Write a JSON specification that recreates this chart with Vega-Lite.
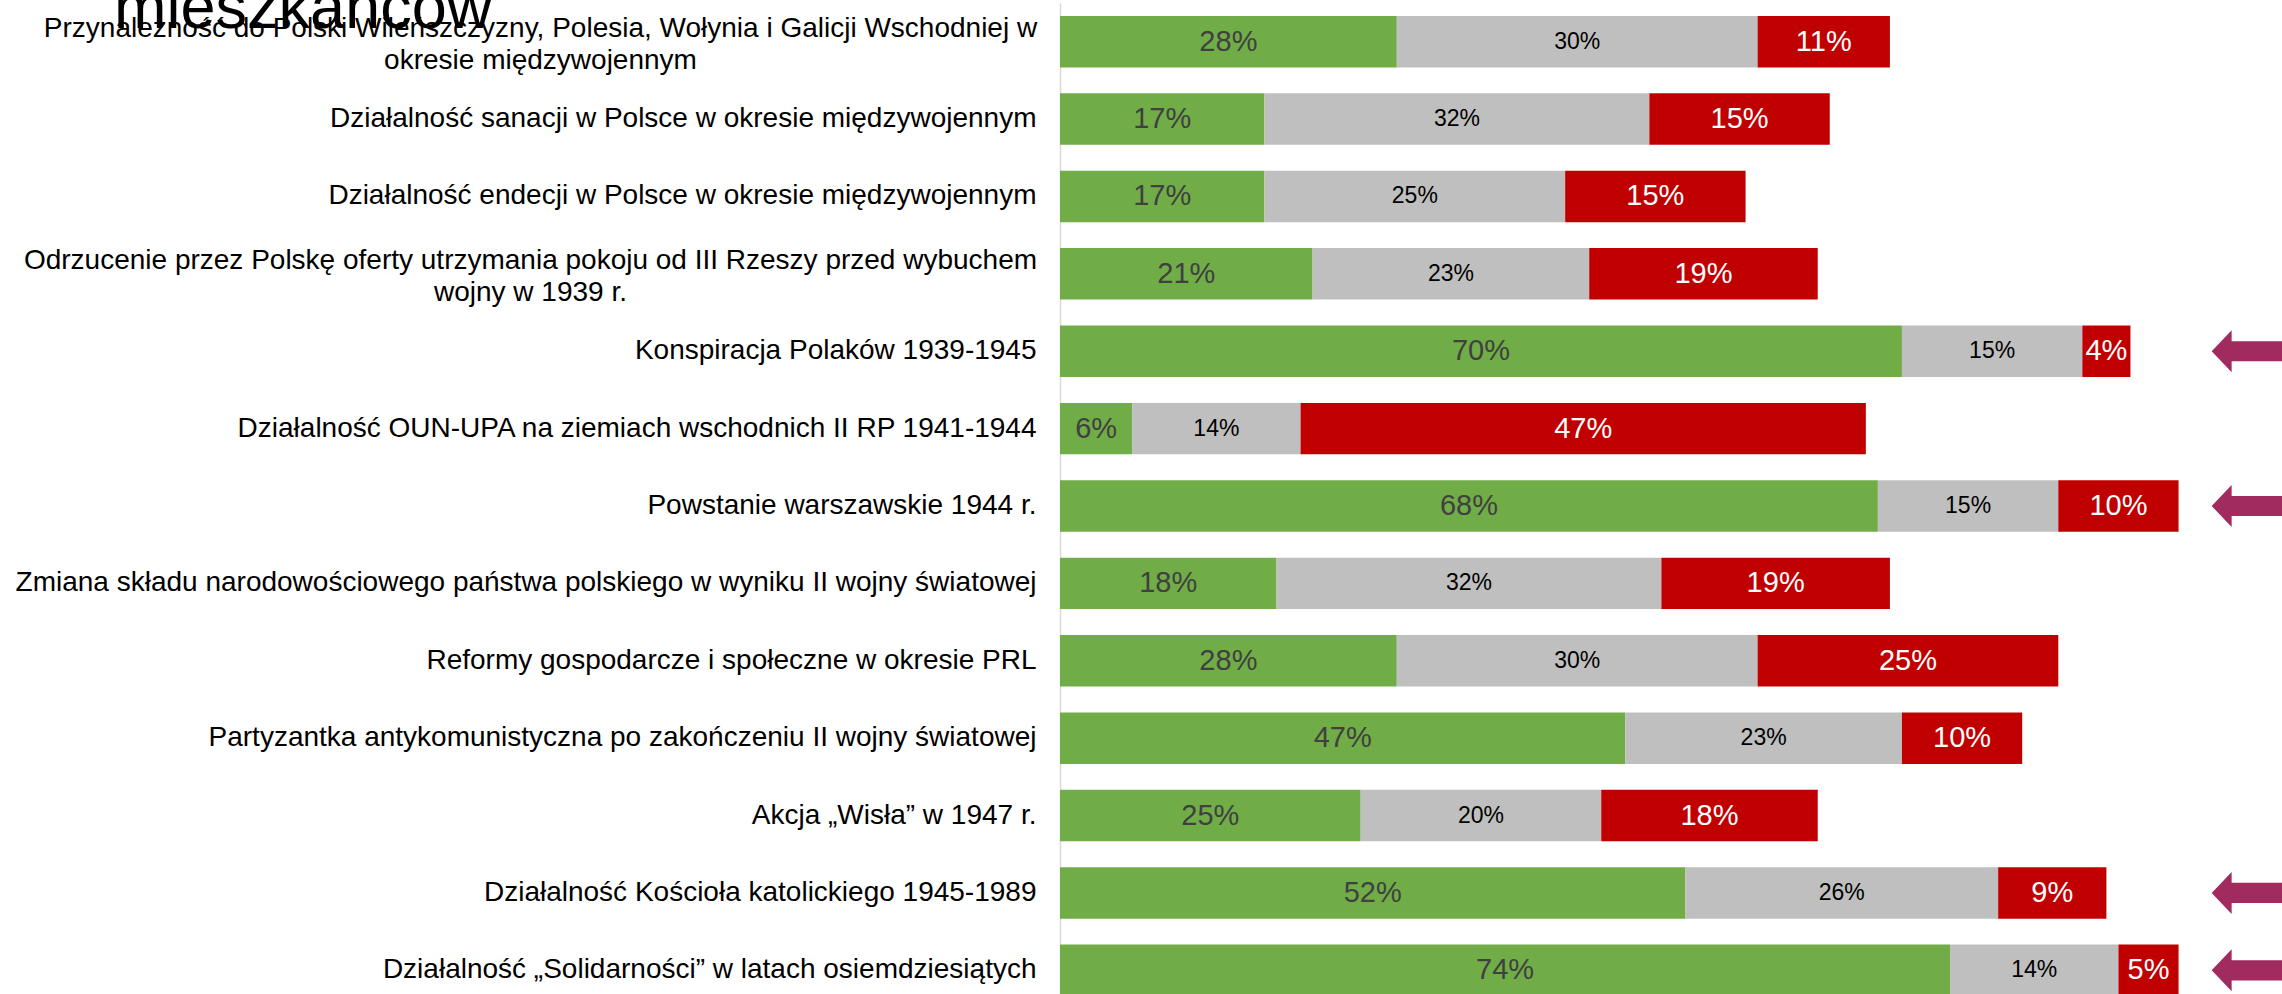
{
  "$schema": "https://vega.github.io/schema/vega-lite/v6.json",
  "autosize": {"type": "none"},
  "padding": {"left": 1060, "top": 3, "right": 0, "bottom": 0},
  "width": 1222,
  "height": 1006,
  "background": "white",
  "config": {"view": {"stroke": null}},
  "title": {"text": "mieszkańców", "anchor": "start", "frame": "bounds", "font": "Liberation Sans", "fontSize": 63, "fontWeight": "normal", "color": "#000000", "baseline": "alphabetic", "offset": 0, "dx": 99, "dy": 88},
  "datasets": {
    "bars": [
      {"cat": "Przynależność do Polski Wileńszczyzny, Polesia, Wołynia i Galicji Wschodniej w\nokresie międzywojennym", "seg": "pos", "order": 1, "value": 0.28},
      {"cat": "Przynależność do Polski Wileńszczyzny, Polesia, Wołynia i Galicji Wschodniej w\nokresie międzywojennym", "seg": "neu", "order": 2, "value": 0.30},
      {"cat": "Przynależność do Polski Wileńszczyzny, Polesia, Wołynia i Galicji Wschodniej w\nokresie międzywojennym", "seg": "neg", "order": 3, "value": 0.11},
      {"cat": "Działalność sanacji w Polsce w okresie międzywojennym", "seg": "pos", "order": 1, "value": 0.17},
      {"cat": "Działalność sanacji w Polsce w okresie międzywojennym", "seg": "neu", "order": 2, "value": 0.32},
      {"cat": "Działalność sanacji w Polsce w okresie międzywojennym", "seg": "neg", "order": 3, "value": 0.15},
      {"cat": "Działalność endecji w Polsce w okresie międzywojennym", "seg": "pos", "order": 1, "value": 0.17},
      {"cat": "Działalność endecji w Polsce w okresie międzywojennym", "seg": "neu", "order": 2, "value": 0.25},
      {"cat": "Działalność endecji w Polsce w okresie międzywojennym", "seg": "neg", "order": 3, "value": 0.15},
      {"cat": "Odrzucenie przez Polskę oferty utrzymania pokoju od III Rzeszy przed wybuchem\nwojny w 1939 r.", "seg": "pos", "order": 1, "value": 0.21},
      {"cat": "Odrzucenie przez Polskę oferty utrzymania pokoju od III Rzeszy przed wybuchem\nwojny w 1939 r.", "seg": "neu", "order": 2, "value": 0.23},
      {"cat": "Odrzucenie przez Polskę oferty utrzymania pokoju od III Rzeszy przed wybuchem\nwojny w 1939 r.", "seg": "neg", "order": 3, "value": 0.19},
      {"cat": "Konspiracja Polaków 1939-1945", "seg": "pos", "order": 1, "value": 0.70},
      {"cat": "Konspiracja Polaków 1939-1945", "seg": "neu", "order": 2, "value": 0.15},
      {"cat": "Konspiracja Polaków 1939-1945", "seg": "neg", "order": 3, "value": 0.04},
      {"cat": "Działalność OUN-UPA na ziemiach wschodnich II RP 1941-1944", "seg": "pos", "order": 1, "value": 0.06},
      {"cat": "Działalność OUN-UPA na ziemiach wschodnich II RP 1941-1944", "seg": "neu", "order": 2, "value": 0.14},
      {"cat": "Działalność OUN-UPA na ziemiach wschodnich II RP 1941-1944", "seg": "neg", "order": 3, "value": 0.47},
      {"cat": "Powstanie warszawskie 1944 r.", "seg": "pos", "order": 1, "value": 0.68},
      {"cat": "Powstanie warszawskie 1944 r.", "seg": "neu", "order": 2, "value": 0.15},
      {"cat": "Powstanie warszawskie 1944 r.", "seg": "neg", "order": 3, "value": 0.10},
      {"cat": "Zmiana składu narodowościowego państwa polskiego w wyniku II wojny światowej", "seg": "pos", "order": 1, "value": 0.18},
      {"cat": "Zmiana składu narodowościowego państwa polskiego w wyniku II wojny światowej", "seg": "neu", "order": 2, "value": 0.32},
      {"cat": "Zmiana składu narodowościowego państwa polskiego w wyniku II wojny światowej", "seg": "neg", "order": 3, "value": 0.19},
      {"cat": "Reformy gospodarcze i społeczne w okresie PRL", "seg": "pos", "order": 1, "value": 0.28},
      {"cat": "Reformy gospodarcze i społeczne w okresie PRL", "seg": "neu", "order": 2, "value": 0.30},
      {"cat": "Reformy gospodarcze i społeczne w okresie PRL", "seg": "neg", "order": 3, "value": 0.25},
      {"cat": "Partyzantka antykomunistyczna po zakończeniu II wojny światowej", "seg": "pos", "order": 1, "value": 0.47},
      {"cat": "Partyzantka antykomunistyczna po zakończeniu II wojny światowej", "seg": "neu", "order": 2, "value": 0.23},
      {"cat": "Partyzantka antykomunistyczna po zakończeniu II wojny światowej", "seg": "neg", "order": 3, "value": 0.10},
      {"cat": "Akcja „Wisła” w 1947 r.", "seg": "pos", "order": 1, "value": 0.25},
      {"cat": "Akcja „Wisła” w 1947 r.", "seg": "neu", "order": 2, "value": 0.20},
      {"cat": "Akcja „Wisła” w 1947 r.", "seg": "neg", "order": 3, "value": 0.18},
      {"cat": "Działalność Kościoła katolickiego 1945-1989", "seg": "pos", "order": 1, "value": 0.52},
      {"cat": "Działalność Kościoła katolickiego 1945-1989", "seg": "neu", "order": 2, "value": 0.26},
      {"cat": "Działalność Kościoła katolickiego 1945-1989", "seg": "neg", "order": 3, "value": 0.09},
      {"cat": "Działalność „Solidarności” w latach osiemdziesiątych", "seg": "pos", "order": 1, "value": 0.74},
      {"cat": "Działalność „Solidarności” w latach osiemdziesiątych", "seg": "neu", "order": 2, "value": 0.14},
      {"cat": "Działalność „Solidarności” w latach osiemdziesiątych", "seg": "neg", "order": 3, "value": 0.05}
    ],
    "arrows": [
      {"cat": "Konspiracja Polaków 1939-1945"},
      {"cat": "Powstanie warszawskie 1944 r."},
      {"cat": "Działalność Kościoła katolickiego 1945-1989"},
      {"cat": "Działalność „Solidarności” w latach osiemdziesiątych"}
    ]
  },
  "encoding": {
    "y": {
      "field": "cat",
      "type": "nominal",
      "sort": null,
      "title": null,
      "scale": {"paddingInner": 0.335, "paddingOuter": 0.1675},
      "axis": {
        "ticks": false,
        "tickSize": 0,
        "domain": true,
        "domainColor": "#D9D9D9",
        "domainWidth": 1.5,
        "labelFont": "Liberation Sans",
        "labelFontSize": 28,
        "labelColor": "#000000",
        "labelLimit": 1100,
        "labelLineHeight": 32,
        "labelExpr": "split(datum.value, '\\n')",
        "labelAlign": {"condition": {"test": "indexof(datum.value, '\\n') >= 0", "value": "center"}, "value": "right"},
        "labelOffset": {"condition": {"test": "indexof(datum.value, '\\n') >= 0", "value": -13}, "value": 0},
        "labelPadding": {"condition": [{"test": "indexof(datum.value, 'Przyna') == 0", "value": 520}, {"test": "indexof(datum.value, 'Odrzu') == 0", "value": 530}], "value": 24}
      }
    }
  },
  "layer": [
    {
      "data": {"name": "bars"},
      "transform": [
        {"stack": "value", "groupby": ["cat"], "sort": [{"field": "order", "order": "ascending"}], "as": ["x0", "x1"]},
        {"calculate": "(datum.x0 + datum.x1) / 2", "as": "mid"}
      ],
      "layer": [
        {
          "mark": {"type": "bar"},
          "encoding": {
            "x": {"field": "x0", "type": "quantitative", "scale": {"domain": [0, 1.016], "nice": false, "zero": true}, "axis": null},
            "x2": {"field": "x1"},
            "color": {"field": "seg", "type": "nominal", "scale": {"domain": ["pos", "neu", "neg"], "range": ["#70AD47", "#BFBFBF", "#C00000"]}, "legend": null}
          }
        },
        {
          "mark": {"type": "text", "font": "Liberation Sans", "align": "center", "baseline": "middle"},
          "encoding": {
            "x": {"field": "mid", "type": "quantitative"},
            "text": {"field": "value", "type": "quantitative", "format": ".0%"},
            "color": {"condition": [{"test": "datum.seg == 'neg'", "value": "#FFFFFF"}, {"test": "datum.seg == 'neu'", "value": "#000000"}], "value": "#404040"},
            "size": {"condition": {"test": "datum.seg == 'neu'", "value": 23}, "value": 29}
          }
        }
      ]
    },
    {
      "data": {"name": "arrows"},
      "mark": {"type": "point", "filled": true, "opacity": 1, "color": "#A12A5E", "strokeWidth": 0, "size": 1764, "shape": "M-1,0L-0.05,-1L-0.05,-0.48L3,-0.48L3,0.48L-0.05,0.48L-0.05,1Z"},
      "encoding": {
        "x": {"datum": 0.975, "type": "quantitative"}
      }
    }
  ]
}
